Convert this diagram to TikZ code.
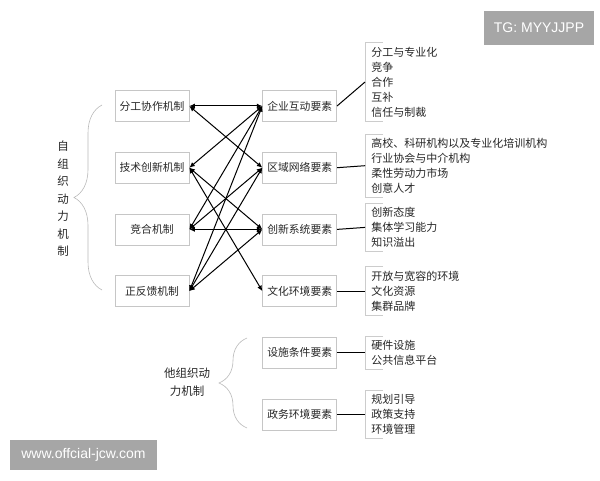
\documentclass[tikz,border=0pt]{standalone}
\usepackage{fontspec}
\newfontfamily\cjk{Noto Sans CJK SC}
\newfontfamily\wmfont{Liberation Sans}
\usetikzlibrary{arrows.meta, positioning, decorations.pathreplacing}
\definecolor{wmgray}{HTML}{A6A6A6}
\definecolor{txt}{HTML}{262626}

\begin{document}
\begin{tikzpicture}[
        x=1pt, y=1pt,
        node distance=30pt and 73pt,
        mech/.style={draw=gray!45, line width=0.7pt, minimum width=74pt, minimum height=31pt,
            inner sep=2pt, text=txt, font=\cjk\fontsize{10.8}{15}\selectfont},
        items/.style={align=left, inner xsep=6pt, inner ysep=4pt, text=txt,
            font=\cjk\fontsize{11}{15}\selectfont},
        link/.style={line width=1pt, {Latex[length=5.5pt,width=5pt]}-{Latex[length=5.5pt,width=5pt]}},
        tie/.style={line width=1pt},
        bracketline/.style={draw=gray!40, line width=0.7pt},
        bigbrace/.style={draw=gray!55, line width=0.6pt, decorate,
            decoration={brace, amplitude=28pt}},
        wm/.style={fill=wmgray, text=white, inner sep=0pt, font=\wmfont\fontsize{14}{16}\selectfont}
    ]
        \useasboundingbox (0,0) rectangle (600,480);

        % Left column: self-organising mechanisms
        \node[mech] (fengong) at (152,374) {分工协作机制};
        \node[mech, below=of fengong] (jishu) {技术创新机制};
        \node[mech, below=of jishu] (jinghe) {竞合机制};
        \node[mech, below=of jinghe] (zhengfk) {正反馈机制};

        % Right column: elements
        \node[mech, right=of fengong] (qiye) {企业互动要素};
        \node[mech, below=of qiye] (quyu) {区域网络要素};
        \node[mech, below=of quyu] (chuangxin) {创新系统要素};
        \node[mech, below=of chuangxin] (wenhua) {文化环境要素};
        \node[mech, below=of wenhua] (sheshi) {设施条件要素};
        \node[mech, below=of sheshi] (zhengwu) {政务环境要素};

        % Crossing arrows
        \foreach \a/\b in {fengong/qiye, fengong/quyu, jishu/qiye, jishu/chuangxin, jishu/wenhua,
                jinghe/qiye, jinghe/quyu, jinghe/chuangxin,
                zhengfk/qiye, zhengfk/quyu, zhengfk/chuangxin}
            \draw[link] (\a.east) -- (\b.west);

        % Item lists
        \node[items, anchor=west] (qiyeL) at ([xshift=28pt, yshift=24pt]qiye.east)
            {分工与专业化\\竞争\\合作\\互补\\信任与制裁};
        \node[items, anchor=west] (quyuL) at ([xshift=28pt, yshift=2pt]quyu.east)
            {高校、科研机构以及专业化培训机构\\行业协会与中介机构\\柔性劳动力市场\\创意人才};
        \node[items, anchor=west] (chuangxinL) at ([xshift=28pt, yshift=2pt]chuangxin.east)
            {创新态度\\集体学习能力\\知识溢出};
        \node[items, anchor=west] (wenhuaL) at ([xshift=28pt]wenhua.east)
            {开放与宽容的环境\\文化资源\\集群品牌};
        \node[items, anchor=west] (sheshiL) at ([xshift=28pt]sheshi.east)
            {硬件设施\\公共信息平台};
        \node[items, anchor=west] (zhengwuL) at ([xshift=28pt]zhengwu.east)
            {规划引导\\政策支持\\环境管理};

        \foreach \e in {qiye, quyu, chuangxin, wenhua, sheshi, zhengwu} {
            \draw[bracketline] ([xshift=18pt]\e L.north west) -| (\e L.south west) -- ++(18pt,0);
            \draw[tie] (\e.east) -- (\e L.west);
        }

        % Braces and group titles
        \draw[bigbrace] (102,190) -- (102,375);
        \node[text=txt, align=center, font=\cjk\fontsize{11.5}{17.5}\selectfont] (zizuzhi) at (63,281)
            {自\\组\\织\\动\\力\\机\\制};
        \draw[bigbrace] (247,52) -- (247,142);
        \node[text=txt, align=center, font=\cjk\fontsize{11.5}{17.5}\selectfont] (tazuzhi) at (187,98)
            {他组织动\\力机制};

        % Watermarks
        \node[wm, minimum width=110pt, minimum height=34pt] (tg) at (539,452) {TG: MYYJJPP};
        \node[wm, minimum width=147pt, minimum height=30pt] (www) at (83.5,25) {www.offcial-jcw.com};
    \end{tikzpicture}
\end{document}
